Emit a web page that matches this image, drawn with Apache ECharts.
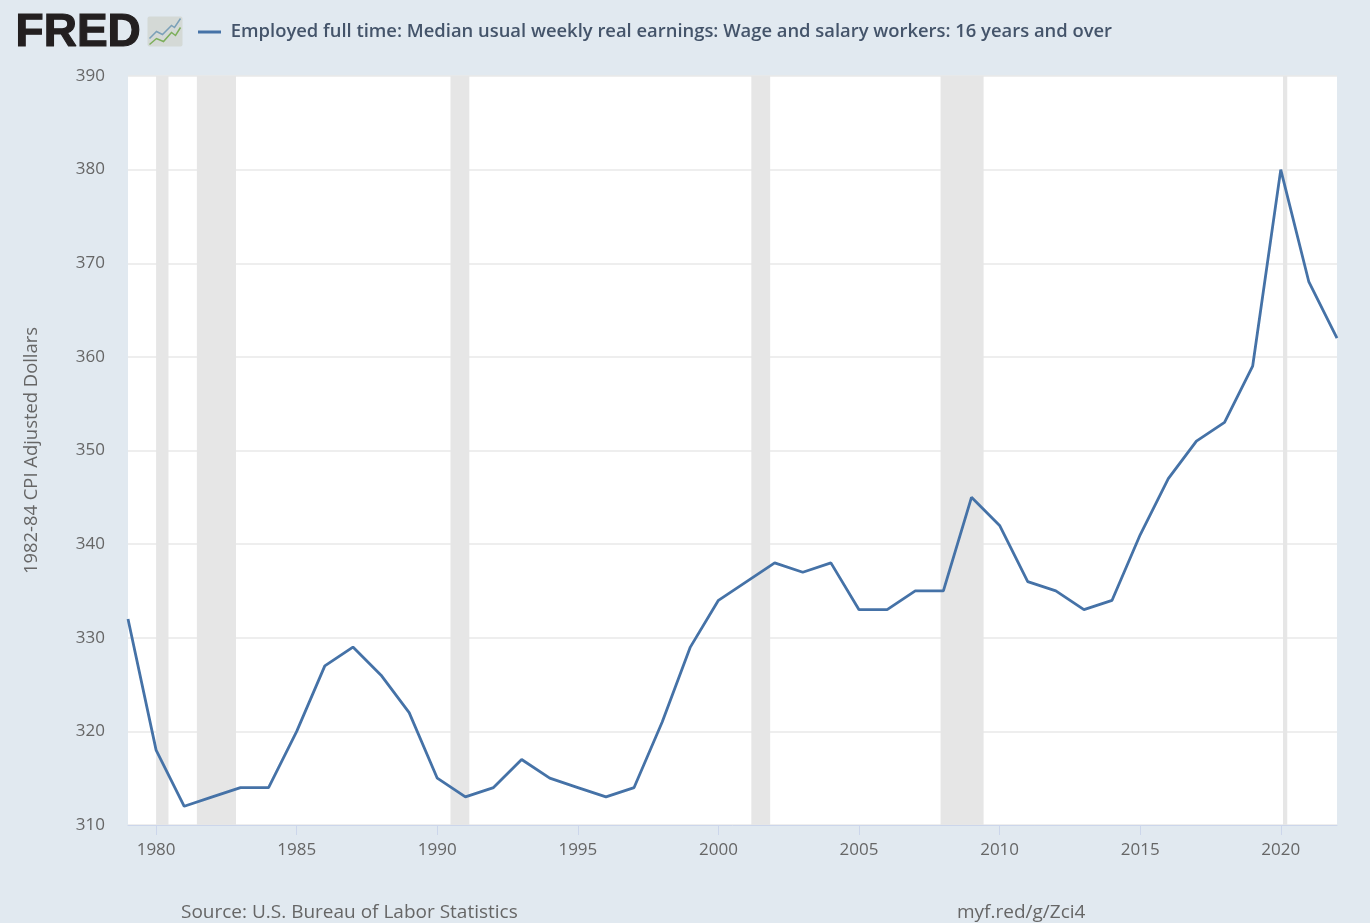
<!DOCTYPE html>
<html>
<head>
<meta charset="utf-8">
<title>FRED</title>
<script src="https://cdn.jsdelivr.net/npm/echarts@6/dist/echarts.min.js"></script>
<style>
  html, body { margin: 0; padding: 0; background: #e1e9f0; }
  #main { width: 1370px; height: 923px; }
</style>
</head>
<body>
<div id="main"></div>
<script>
const seriesName = 'Employed full time: Median usual weekly real earnings: Wage and salary workers: 16 years and over';
const years = [1979, 1980, 1981, 1982, 1983, 1984, 1985, 1986, 1987, 1988, 1989, 1990, 1991, 1992, 1993,
  1994, 1995, 1996, 1997, 1998, 1999, 2000, 2001, 2002, 2003, 2004, 2005, 2006, 2007, 2008, 2009, 2010,
  2011, 2012, 2013, 2014, 2015, 2016, 2017, 2018, 2019, 2020, 2021, 2022];
const earnings = [332, 318, 312, 313, 314, 314, 320, 327, 329, 326, 322, 315, 313, 314, 317,
  315, 314, 313, 314, 321, 329, 334, 336, 338, 337, 338, 333, 333, 335, 335, 345, 342,
  336, 335, 333, 334, 341, 347, 351, 353, 359, 380, 368, 362];
const xTicks = [1980, 1985, 1990, 1995, 2000, 2005, 2010, 2015, 2020];
// recessions, in decimal years
const recessions = [
  [1980.0, 1980.44],
  [1981.45, 1982.84],
  [1990.47, 1991.14],
  [2001.17, 2001.84],
  [2007.9, 2009.43],
  [2020.08, 2020.23]
];

const textColor = '#666666';
const font = '"Open Sans", sans-serif';

const chart = echarts.init(document.getElementById('main'));
const option = {
  backgroundColor: '#e1e9f0',
  animation: false,
  textStyle: { fontFamily: font },
  legend: {
    left: 193,
    top: 18,
    itemWidth: 23,
    itemHeight: 3,
    itemGap: 8,
    icon: 'rect',
    data: [seriesName],
    formatter: name => ' ' + name,
    textStyle: { color: '#44546a', fontSize: 18.4, fontWeight: 600, fontFamily: font }
  },
  grid: { left: 128, right: 33, top: 76, bottom: 98, backgroundColor: '#ffffff', show: true, borderWidth: 0 },
  xAxis: {
    type: 'value',
    min: 1979,
    max: 2022,
    splitLine: { show: false },
    axisLine: { show: true, onZero: false, lineStyle: { color: '#ccd6eb', width: 1 } },
    axisTick: { show: true, length: 10, customValues: xTicks, lineStyle: { color: '#ccd6eb' } },
    axisLabel: {
      customValues: xTicks,
      color: textColor,
      fontSize: 17,
      margin: 17,
      formatter: v => String(v)
    }
  },
  yAxis: {
    type: 'value',
    min: 310,
    max: 390,
    interval: 10,
    name: '1982-84 CPI Adjusted Dollars',
    nameLocation: 'middle',
    nameGap: 87,
    nameTextStyle: { color: textColor, fontSize: 18.4 },
    splitLine: { lineStyle: { color: '#e9e9e9', width: 1.5 } },
    axisLine: { show: false },
    axisTick: { show: false },
    axisLabel: { color: textColor, fontSize: 17, margin: 23, padding: [3, 0, 0, 0] }
  },
  series: [{
    name: seriesName,
    type: 'line',
    showSymbol: false,
    data: years.map((y, i) => [y, earnings[i]]),
    lineStyle: { color: '#4572a7', width: 2.8 },
    itemStyle: { color: '#4572a7' },
    markArea: {
      silent: true,
      itemStyle: { color: '#e6e6e6' },
      data: recessions.map(r => [{ xAxis: r[0] }, { xAxis: r[1] }])
    }
  }],
  graphic: [
    { type: 'text', left: 15, top: 10, style: { text: 'FRED', font: '900 46px "Liberation Sans", sans-serif', fill: '#231f20', stroke: '#231f20', lineWidth: 1.2 } },
    { type: 'group', left: 147, top: 16, children: [
      { type: 'rect', shape: { x: 0, y: 0, width: 35, height: 30, r: 2 }, style: { fill: '#d4d9d6' } },
      { type: 'polyline', shape: { points: [[2, 22], [9, 15], [15, 18], [24, 9], [27, 11], [33, 2]] }, style: { stroke: '#7ba0b8', lineWidth: 1.5, fill: null } },
      { type: 'polyline', shape: { points: [[2, 28], [9, 22], [16, 25], [24, 16], [28, 19], [33, 11]] }, style: { stroke: '#7cae5a', lineWidth: 1.5, fill: null } }
    ] },
    { type: 'text', left: 181, top: 903, style: { text: 'Source: U.S. Bureau of Labor Statistics', font: '19px "Open Sans", sans-serif', fill: textColor } },
    { type: 'text', left: 957, top: 903, style: { text: 'myf.red/g/Zci4', font: '19px "Open Sans", sans-serif', fill: textColor } }
  ]
};
chart.setOption(option);
</script>
</body>
</html>
